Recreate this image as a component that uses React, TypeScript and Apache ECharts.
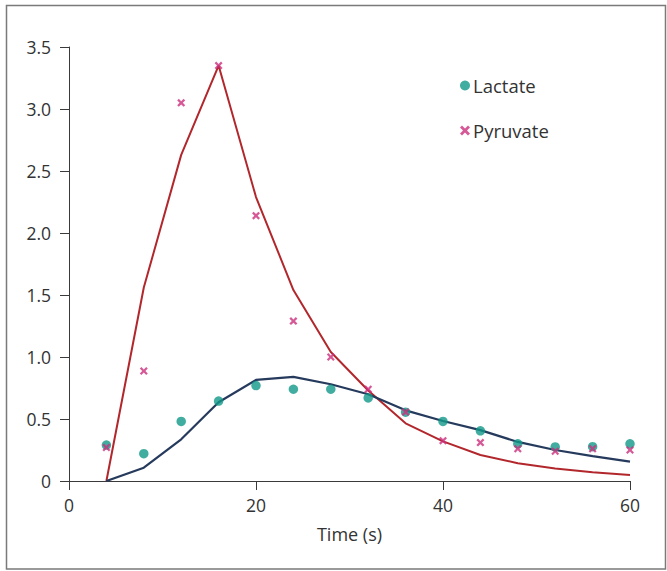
import React, { useEffect, useRef } from "react";
import * as echarts from "echarts";

const times = [4, 8, 12, 16, 20, 24, 28, 32, 36, 40, 44, 48, 52, 56, 60];
const lactatePoints = [0.29, 0.22, 0.48, 0.645, 0.77, 0.74, 0.74, 0.67, 0.555, 0.48, 0.405, 0.3, 0.275, 0.277, 0.3];
const pyruvatePoints = [0.27, 0.887, 3.05, 3.35, 2.14, 1.29, 1.0, 0.74, 0.556, 0.325, 0.31, 0.26, 0.24, 0.26, 0.25];
const lactateFit = [0, 0.107, 0.336, 0.635, 0.815, 0.84, 0.78, 0.7, 0.57, 0.484, 0.41, 0.315, 0.25, 0.2, 0.156];
const pyruvateFit = [0, 1.56, 2.63, 3.35, 2.29, 1.54, 1.04, 0.73, 0.465, 0.32, 0.21, 0.143, 0.1, 0.07, 0.048];
const xTicks = [0, 20, 40, 60];
const yTicks = [0, 0.5, 1.0, 1.5, 2.0, 2.5, 3.0, 3.5];

const FONT = "'Open Sans', 'Noto Sans', sans-serif";
const AXIS = "#3a3a3a";
const LACTATE = "#12998a";
const PYRUVATE = "#cc2f7d";
const XMARK = "path://M0,2 L2,0 L5,3 L8,0 L10,2 L7,5 L10,8 L8,10 L5,7 L2,10 L0,8 L3,5 Z";

const pair = (xs: number[], ys: number[]) => xs.map((x, i) => [x, ys[i]]);

export default function App() {
  const ref = useRef<HTMLDivElement>(null);
  useEffect(() => {
    if (!ref.current) return;
    const chart = echarts.init(ref.current, null, { renderer: "svg" });
    chart.setOption({
      animation: false,
      backgroundColor: "#ffffff",
      grid: { left: 69, top: 47, right: 37, bottom: 90, containLabel: false },
      graphic: [
        {
          type: "rect",
          shape: { x: 6.5, y: 5.5, width: 659, height: 563.5 },
          style: { fill: "none", stroke: "#7a7a7a", lineWidth: 1.5 },
          silent: true,
        },
      ],
      legend: {
        orient: "vertical",
        left: 455,
        top: 71,
        itemGap: 26,
        itemWidth: 10,
        itemHeight: 10,
        selectedMode: false,
        textStyle: { fontFamily: FONT, fontSize: 18.5, color: "#333", padding: [0, 0, 0, -2] },
        data: [
          { name: "Lactate", icon: "circle" },
          { name: "Pyruvate", icon: XMARK },
        ],
      },
      xAxis: {
        type: "value",
        min: 0,
        max: 60,
        interval: 20,
        name: "Time (s)",
        nameLocation: "middle",
        nameGap: 44,
        nameTextStyle: { fontFamily: FONT, fontSize: 18, color: "#333" },
        axisLine: { lineStyle: { color: AXIS, width: 1 } },
        axisTick: { show: true, inside: false, length: 9, lineStyle: { color: AXIS } },
        axisLabel: {
          fontFamily: FONT,
          fontSize: 17.5,
          color: "#333",
          margin: 15,
          customValues: xTicks,
        },
        splitLine: { show: false },
      },
      yAxis: {
        type: "value",
        min: 0,
        max: 3.5,
        interval: 0.5,
        axisLine: { show: true, lineStyle: { color: AXIS, width: 1 } },
        axisTick: { show: true, inside: false, length: 9, lineStyle: { color: AXIS } },
        axisLabel: {
          fontFamily: FONT,
          fontSize: 17.5,
          color: "#333",
          margin: 18,
          formatter: (v: number) => (v === 0 ? "0" : v.toFixed(1)),
          customValues: yTicks,
        },
        splitLine: { show: false },
      },
      series: [
        {
          name: "Pyruvate fit",
          type: "line",
          data: pair(times, pyruvateFit),
          showSymbol: false,
          lineStyle: { color: "#b2272c", width: 2 },
          z: 2,
        },
        {
          name: "Lactate fit",
          type: "line",
          data: pair(times, lactateFit),
          showSymbol: false,
          lineStyle: { color: "#253a5c", width: 2.2 },
          z: 2,
        },
        {
          name: "Lactate",
          type: "scatter",
          data: pair(times, lactatePoints),
          symbol: "circle",
          symbolSize: 9.5,
          itemStyle: { color: LACTATE },
          z: 3,
        },
        {
          name: "Pyruvate",
          type: "scatter",
          data: pair(times, pyruvatePoints),
          symbol: XMARK,
          symbolSize: 8,
          itemStyle: { color: PYRUVATE },
          z: 4,
        },
      ],
    });
    return () => chart.dispose();
  }, []);
  return (
    <div
      ref={ref}
      style={{ position: "fixed", left: 0, top: 0, width: 667, height: 571 }}
    />
  );
}
